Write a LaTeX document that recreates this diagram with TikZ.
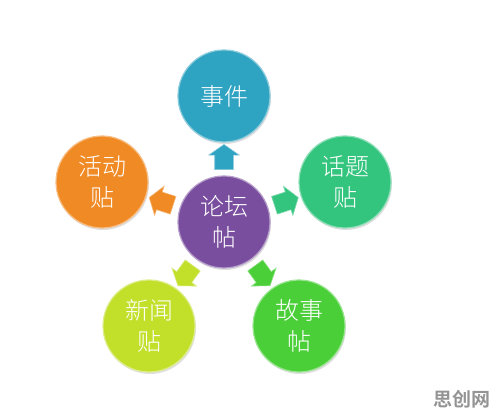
\documentclass[tikz,border=0pt]{standalone}
\usepackage{fontspec}
\newfontfamily\cjk{Noto Sans CJK SC Light}
\newfontfamily\cjkb{Noto Sans CJK SC Bold}
\usepackage{tikz}
\usetikzlibrary{positioning}
\usetikzlibrary{shapes.arrows}
\usetikzlibrary{shadows}
\usetikzlibrary{calc}
\definecolor{teal1}{HTML}{2FA3C2}
\definecolor{purp1}{HTML}{7A4E9E}
\definecolor{mint1}{HTML}{33C47E}
\definecolor{oran1}{HTML}{F08A24}
\definecolor{lime1}{HTML}{C2DF2A}
\definecolor{gren1}{HTML}{4ACF38}
\tikzset{bub/.style = {circle, minimum size = 92, inner sep = 0, fill = #1,
                       draw = #1!55!white, line width = 1.2,
                       text = white, align = center,
                       font = \cjk\fontsize{24}{31}\selectfont,
                       drop shadow = {opacity = 0.25, shadow xshift = 1pt, shadow yshift = -2pt}}}
\tikzset{arr/.style = {single arrow, fill = #1, draw = #1!60!white, line width = 0.6,
                       minimum height = 22, minimum width = 30, inner sep = 9,
                       single arrow head extend = 6, single arrow tip angle = 110}}

\begin{document}
\begin{tikzpicture}[x=1pt, y=1pt]
      \useasboundingbox (0, 0) rectangle (499, 418);

      % the five posts round the forum
      \node [bub=purp1] (luntan) at (224, 196) {论坛\\帖};
      \node [bub=teal1] (shijian) at (224, 322) {事件};
      \node [bub=mint1] (huati) at (345, 236) {话题\\贴};
      \node [bub=oran1] (huodong) at (102, 236) {活动\\贴};
      \node [bub=lime1] (xinwen) at (149, 92) {新闻\\贴};
      \node [bub=gren1] (gushi) at (299, 92) {故事\\帖};

      \node [arr=teal1, rotate=90] (a1) at ($(luntan)!0.49!(shijian)$) {};
      \node [arr=mint1, rotate=18] (a2) at ($(luntan)!0.49!(huati)$) {};
      \node [arr=oran1, rotate=162] (a3) at ($(luntan)!0.49!(huodong)$) {};
      \node [arr=lime1, rotate=-126] (a4) at ($(luntan)!0.49!(xinwen)$) {};
      \node [arr=gren1, rotate=-54] (a5) at ($(luntan)!0.49!(gushi)$) {};

      \node [text=black!42, font=\cjkb\fontsize{19}{19}\selectfont] (mark) at (462, 19) {思创网};
    \end{tikzpicture}
\end{document}
